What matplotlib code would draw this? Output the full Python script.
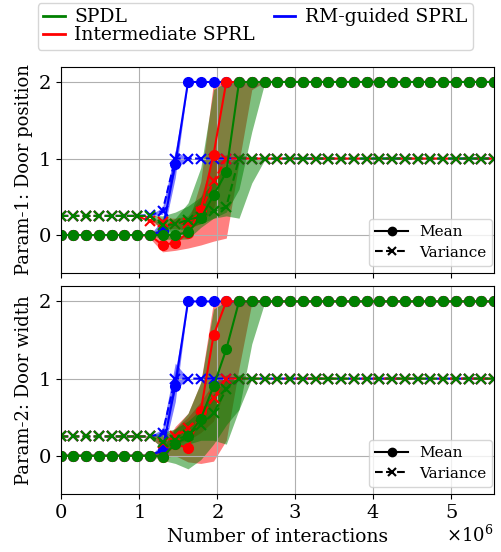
import numpy as np
import matplotlib
matplotlib.use("Agg")
from matplotlib import pyplot as plt
from matplotlib.lines import Line2D

plt.rcParams["font.family"] = "DejaVu Serif"
plt.rcParams["mathtext.fontset"] = "dejavuserif"

# evaluation grid (35 evaluations, evenly spaced)
interactions = np.arange(35) * 163200

N = 35
START = 7  # values below are listed from evaluation index 7 onwards


def pad(mid, before, after):
    return np.array([before] * START + mid + [after] * (N - START - len(mid)))


# ---- Param-1: door position ----
p1_blue_mean = pad([0.0, 0.05, 0.93], 0.0, 2.0)
p1_blue_mean_lo = pad([0.0, -0.02, 0.75], 0.0, 2.0)
p1_blue_mean_hi = pad([0.0, 0.2, 1.1], 0.0, 2.0)
p1_blue_var = pad([0.26, 0.31, 1.0], 0.25, 1.0)
p1_blue_var_lo = pad([0.25, 0.27, 0.85], 0.25, 1.0)
p1_blue_var_hi = pad([0.26, 0.36, 1.1], 0.25, 1.0)

p1_red_mean = pad([0.0, -0.13, -0.10, 0.03, 0.33, 1.05, 2.0], 0.0, 2.0)
p1_red_mean_lo = pad([-0.04, -0.22, -0.2, -0.17, -0.13, -0.08, -0.04, 0.95, 1.9], 0.0, 2.0)
p1_red_mean_hi = pad([0.02, 0.0, 0.02, 0.15, 0.7, 2.0, 2.0], 0.0, 2.0)
p1_red_var = pad([0.18, 0.17, 0.15, 0.16, 0.3, 0.7, 1.0], 0.25, 1.0)
p1_red_var_lo = pad([0.17, 0.1, 0.08, 0.08, 0.15, 0.35, 0.95], 0.25, 1.0)
p1_red_var_hi = pad([0.2, 0.22, 0.22, 0.25, 0.5, 1.0, 1.05], 0.25, 1.0)

p1_green_mean = pad([0.0, 0.0, 0.0, 0.04, 0.22, 0.52, 0.82, 2.0], 0.0, 2.0)
p1_green_mean_lo = pad([0.0, -0.05, -0.06, -0.05, 0.1, 0.22, 0.3, 0.6, 1.35, 1.98], 0.0, 2.0)
p1_green_mean_hi = pad([0.02, 0.1, 0.22, 0.42, 0.88, 1.9, 2.0], 0.0, 2.0)
p1_green_var = pad([0.25, 0.13, 0.14, 0.2, 0.24, 0.31, 0.37, 1.0], 0.25, 1.0)
p1_green_var_lo = pad([0.24, 0.05, 0.05, 0.1, 0.15, 0.22, 0.25, 0.22, 0.68, 0.98], 0.25, 1.0)
p1_green_var_hi = pad([0.26, 0.25, 0.3, 0.38, 0.5, 0.7, 0.9, 1.05, 1.02], 0.25, 1.0)

# ---- Param-2: door width ----
p2_blue_mean = pad([0.0, 0.07, 0.91], 0.0, 2.0)
p2_blue_mean_lo = pad([0.0, 0.0, 0.7], 0.0, 2.0)
p2_blue_mean_hi = pad([0.0, 0.15, 1.1], 0.0, 2.0)
p2_blue_var = pad([0.25, 0.29, 1.0], 0.25, 1.0)
p2_blue_var_lo = pad([0.25, 0.25, 0.85], 0.25, 1.0)
p2_blue_var_hi = pad([0.25, 0.35, 1.2], 0.25, 1.0)

p2_red_mean = pad([0.0, -0.01, 0.15, 0.1, 0.58, 1.56, 2.0], 0.0, 2.0)
p2_red_mean_lo = pad([0.0, -0.03, 0.0, -0.08, -0.1, -0.07, 0.2, 1.14, 1.98], 0.0, 2.0)
p2_red_mean_hi = pad([0.02, 0.1, 0.38, 0.55, 0.95, 2.0, 2.0], 0.0, 2.0)
p2_red_var = pad([0.25, 0.17, 0.25, 0.36, 0.5, 0.75, 1.0], 0.25, 1.0)
p2_red_var_lo = pad([0.24, 0.1, 0.15, 0.2, 0.3, 0.45, 0.9], 0.25, 1.0)
p2_red_var_hi = pad([0.26, 0.25, 0.35, 0.5, 0.7, 0.95, 1.05], 0.25, 1.0)

p2_green_mean = pad([0.0, -0.01, 0.15, 0.25, 0.48, 0.9, 1.38, 2.0], 0.0, 2.0)
p2_green_mean_lo = pad([0.0, -0.06, -0.1, -0.17, -0.05, 0.15, 0.4, 0.6, 1.45, 1.98], 0.0, 2.0)
p2_green_mean_hi = pad([0.02, 0.1, 0.35, 0.55, 0.95, 1.9, 2.0], 0.0, 2.0)
p2_green_var = pad([0.25, 0.18, 0.2, 0.27, 0.4, 0.55, 0.86, 1.0], 0.25, 1.0)
p2_green_var_lo = pad([0.24, 0.1, 0.1, 0.15, 0.2, 0.2, 0.15, 0.6], 0.25, 1.0)
p2_green_var_hi = pad([0.26, 0.3, 0.35, 0.45, 0.6, 0.8, 1.0, 1.05, 1.02], 0.25, 1.0)

methods = ["RM-guided SPRL", "Intermediate SPRL", "SPDL"]
colors = {"SPDL": "green", "Intermediate SPRL": "red", "RM-guided SPRL": "blue"}

panels = [
    {
        "ylabel": "Param-1: Door position",
        "RM-guided SPRL": (p1_blue_mean, p1_blue_mean_lo, p1_blue_mean_hi,
                           p1_blue_var, p1_blue_var_lo, p1_blue_var_hi),
        "Intermediate SPRL": (p1_red_mean, p1_red_mean_lo, p1_red_mean_hi,
                              p1_red_var, p1_red_var_lo, p1_red_var_hi),
        "SPDL": (p1_green_mean, p1_green_mean_lo, p1_green_mean_hi,
                 p1_green_var, p1_green_var_lo, p1_green_var_hi),
    },
    {
        "ylabel": "Param-2: Door width",
        "RM-guided SPRL": (p2_blue_mean, p2_blue_mean_lo, p2_blue_mean_hi,
                           p2_blue_var, p2_blue_var_lo, p2_blue_var_hi),
        "Intermediate SPRL": (p2_red_mean, p2_red_mean_lo, p2_red_mean_hi,
                              p2_red_var, p2_red_var_lo, p2_red_var_hi),
        "SPDL": (p2_green_mean, p2_green_mean_lo, p2_green_mean_hi,
                 p2_green_var, p2_green_var_lo, p2_green_var_hi),
    },
]

fig = plt.figure(figsize=(5.01, 5.52), dpi=100)
ax1 = fig.add_axes([0.1208, 0.5049, 0.8653, 0.3743])
ax2 = fig.add_axes([0.1208, 0.1045, 0.8653, 0.3774], sharex=ax1)

for ax, panel in zip([ax1, ax2], panels):
    for name in methods:
        c = colors[name]
        mean, mlo, mhi, var, vlo, vhi = panel[name]
        ax.fill_between(interactions, mlo, mhi, color=c, alpha=0.5, lw=0)
        ax.fill_between(interactions, vlo, vhi, color=c, alpha=0.5, lw=0)
        ax.plot(interactions, mean, "-o", color=c, lw=1.5, ms=7)
        ax.plot(interactions, var, "--x", color=c, lw=1.5, ms=7, mew=1.5)
    ax.set_ylim(-0.5, 2.2)
    ax.set_yticks([0, 1, 2])
    ax.set_xlim(0, interactions[-1])
    ax.grid(True)
    ax.set_ylabel(panel["ylabel"], fontsize=13)
    ax.tick_params(labelsize=14)
    style = [Line2D([], [], color="k", ls="-", marker="o", lw=1.5, ms=6),
             Line2D([], [], color="k", ls="--", marker="x", lw=1.5, ms=6, mew=1.5)]
    ax.legend(style, ["Mean", "Variance"], loc="lower right", fontsize=11,
              labelspacing=0.4, handlelength=2.2, handletextpad=0.7,
              bbox_to_anchor=(1.014, 0.0))

plt.setp(ax1.get_xticklabels(), visible=False)
ax1.xaxis.get_offset_text().set_visible(False)
ax2.ticklabel_format(axis="x", style="sci", scilimits=(0, 0), useMathText=True)
ax2.xaxis.get_offset_text().set_visible(False)
ax2.text(0.998, -0.145, r"$\times10^{6}$", transform=ax2.transAxes,
         ha="right", va="top", fontsize=13)
ax2.set_xlabel("Number of interactions", fontsize=13.5)

handles = [Line2D([], [], color=colors[m], lw=2) for m in ["SPDL", "Intermediate SPRL", "RM-guided SPRL"]]
fig.legend(handles, ["SPDL", "Intermediate SPRL", "RM-guided SPRL"], loc="lower center",
           bbox_to_anchor=(0.509, 0.9094), ncol=2, fontsize=13.5, labelspacing=0.0,
           handlelength=1.15, handletextpad=0.5, columnspacing=1.0, borderpad=0.3,
           borderaxespad=0)

fig.savefig("out.png", dpi=100)
